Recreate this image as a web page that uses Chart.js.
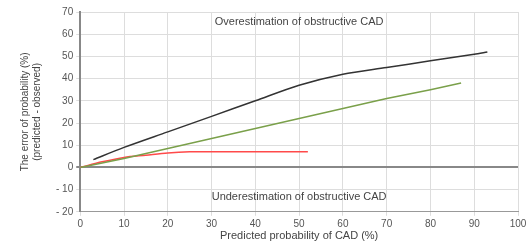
<!DOCTYPE html>
<html>
<head>
<meta charset="utf-8">
<script src="https://cdn.jsdelivr.net/npm/chart.js@4"></script>
<style>
  html, body { margin: 0; padding: 0; background: #fff; }
</style>
</head>
<body>
<canvas id="chart" width="532" height="246"></canvas>
<script>
// values
const black_x = [3, 10, 20, 30, 40, 50, 60, 70, 80, 90, 93];
const black_y = [3.5, 9, 16, 23, 30, 37, 42, 45, 48, 51, 52];

const green_x = [0, 10, 20, 30, 40, 50, 60, 70, 80, 87];
const green_y = [0, 4, 8.5, 13, 17.5, 22, 26.5, 31, 35, 38];

const red_x = [0, 5, 10, 15, 20, 25, 30, 40, 52];
const red_y = [0, 2.5, 4.5, 5.5, 6.5, 7, 7, 7, 7];

const over_label = 'Overestimation of obstructive CAD';
const under_label = 'Underestimation of obstructive CAD';

const pts = (xs, ys) => xs.map((x, i) => ({ x: x, y: ys[i] }));

// draws the two region labels at data positions
const regionText = {
  id: 'regionText',
  afterDatasetsDraw(chart) {
    const { ctx, scales } = chart;
    ctx.save();
    ctx.font = '11px "Liberation Sans", Arial, sans-serif';
    ctx.fillStyle = '#444';
    ctx.textAlign = 'center';
    ctx.textBaseline = 'middle';
    ctx.fillText(over_label, scales.x.getPixelForValue(50), scales.y.getPixelForValue(65.5));
    ctx.fillText(under_label, scales.x.getPixelForValue(50), scales.y.getPixelForValue(-13.5));
    ctx.restore();
  }
};

const font = { family: '"Liberation Sans", Arial, sans-serif', size: 10 };

new Chart(document.getElementById('chart'), {
  type: 'line',
  data: {
    datasets: [
      { data: pts(black_x, black_y), borderColor: '#333', borderWidth: 1.5, pointRadius: 0, tension: 0.3 },
      { data: pts(green_x, green_y), borderColor: '#7aa04a', borderWidth: 1.5, pointRadius: 0, tension: 0 },
      { data: pts(red_x, red_y), borderColor: '#ff4a4a', borderWidth: 1.5, pointRadius: 0, tension: 0.3 }
    ]
  },
  options: {
    responsive: false,
    animation: false,
    layout: { padding: { left: 9, right: 14, top: 12, bottom: 3 } },
    plugins: { legend: { display: false }, tooltip: { enabled: false } },
    scales: {
      x: {
        type: 'linear',
        min: 0, max: 100,
        ticks: { stepSize: 10, color: '#555', font: font, padding: 2, maxRotation: 0, autoSkip: false },
        grid: { color: '#ddd', tickLength: 4 },
        border: { color: '#999' },
        title: { display: true, text: 'Predicted probability of CAD (%)', color: '#444', font: { ...font, size: 11 }, padding: { top: -2, bottom: 0 } }
      },
      y: {
        min: -20, max: 70,
        ticks: {
          stepSize: 10, color: '#555', font: font, padding: 3, autoSkip: false,
          callback: v => v < 0 ? '- ' + Math.abs(v) : v
        },
        grid: {
          color: ctx => ctx.tick && ctx.tick.value === 0 ? '#888' : '#ddd',
          lineWidth: ctx => ctx.tick && ctx.tick.value === 0 ? 2 : 1,
          tickLength: 4
        },
        border: { color: '#888', width: 2 },
        title: {
          display: true,
          text: ['The error of probability (%)', '(predicted - observed)'],
          color: '#444', font: font, padding: 10
        }
      }
    }
  },
  plugins: [regionText]
});
</script>
</body>
</html>
